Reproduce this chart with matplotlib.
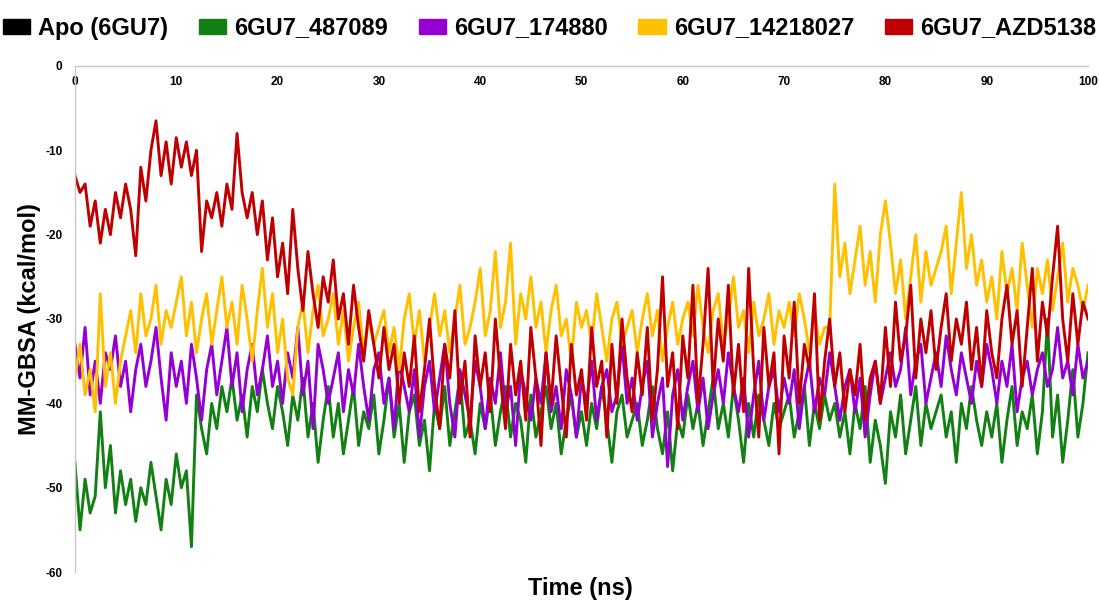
import numpy as np
import matplotlib
matplotlib.use("Agg")
import matplotlib.pyplot as plt
from matplotlib.patches import Patch

plt.rcParams["font.family"] = ["Liberation Sans", "DejaVu Sans"]
plt.rcParams["axes.unicode_minus"] = False

series_names = ["Apo (6GU7)", "6GU7_487089", "6GU7_174880", "6GU7_14218027", "6GU7_AZD5138"]
series_colors = ["#000000", "#138013", "#9400D3", "#FFC000", "#C00000"]

time_ns = np.arange(0, 100.01, 0.5)

azd5138 = [
    -13, -15, -14, -19, -16, -21, -17, -20, -15, -18, -14,
    -17, -22.5, -12, -16, -10, -6.5, -13, -9, -14, -8.5,
    -12, -9, -13, -10, -22, -16, -18, -15, -19, -14,
    -17, -8, -15, -18, -15, -20, -16, -23, -18, -25,
    -21, -27, -17, -24, -29, -22, -27, -31, -25, -28,
    -23, -30, -27, -33, -26, -31, -35, -29, -33, -37,
    -31, -36, -33, -40, -34, -38, -32, -41, -36, -30,
    -38, -43, -33, -37, -29, -40, -35, -44, -32, -38,
    -34, -41, -30, -37, -43, -33, -39, -35, -42, -31,
    -37, -45, -34, -40, -32, -38, -44, -33, -39, -36,
    -42, -31, -38, -35, -44, -33, -40, -30, -37, -41,
    -34, -39, -31, -42, -36, -25, -38, -34, -43, -32,
    -37, -26, -40, -33, -24, -38, -30, -35, -26, -39,
    -33, -41, -24, -36, -44, -31, -38, -34, -46, -32,
    -37, -28, -40, -33, -36, -27, -42, -35, -30, -38,
    -34, -41, -36, -39, -33, -42, -37, -35, -40, -31,
    -38, -28, -35, -32, -26, -37, -30, -34, -29, -36,
    -31, -27, -35, -30, -33, -28, -36, -31, -38, -29,
    -34, -37, -30, -26, -33, -29, -38, -31, -24, -35,
    -28, -32, -25, -19, -30, -35, -27, -33, -28, -30,
]

c14218027 = [
    -37, -33, -39, -36, -41, -27, -38, -34, -40, -35, -32,
    -29, -34, -27, -32, -30, -26, -33, -29, -31, -28,
    -25, -32, -28, -34, -30, -27, -33, -29, -25, -31,
    -28, -33, -26, -30, -35, -29, -24, -31, -27, -34,
    -30, -37, -39, -31, -28, -34, -29, -26, -32, -30,
    -27, -33, -29, -35, -31, -28, -34, -30, -33, -31,
    -29, -34, -31, -36, -30, -27, -33, -29, -35, -31,
    -27, -32, -29, -34, -30, -26, -33, -31, -28, -24,
    -32, -29, -22, -31, -28, -21, -33, -27, -30, -25,
    -31, -28, -34, -29, -26, -32, -30, -35, -28, -31,
    -29, -33, -27, -31, -35, -30, -28, -33, -31, -29,
    -34, -30, -27, -32, -29, -35, -31, -28, -33, -30,
    -28, -32, -26, -31, -34, -29, -27, -33, -30, -25,
    -31, -29, -34, -28, -32, -30, -27, -33, -29, -31,
    -28, -32, -27, -30, -34, -29, -33, -31, -31, -14,
    -25, -21, -27, -23, -19, -26, -22, -28, -20, -16,
    -21, -27, -23, -30, -25, -20, -28, -22, -26, -24,
    -22, -19, -27, -21, -15, -24, -20, -26, -23, -28,
    -25, -30, -22, -27, -24, -29, -21, -26, -31, -24,
    -27, -23, -29, -25, -21, -28, -24, -26, -29, -26,
]

c174880 = [
    -33, -37, -31, -39, -35, -40, -34, -36, -32, -38, -35,
    -41, -36, -33, -38, -35, -31, -37, -42, -34, -38,
    -35, -40, -33, -37, -42, -36, -33, -39, -35, -31,
    -38, -34, -41, -36, -33, -39, -36, -32, -38, -35,
    -40, -34, -37, -31, -39, -35, -43, -33, -36, -40,
    -37, -34, -41, -36, -39, -33, -38, -42, -36, -34,
    -40, -37, -43, -35, -38, -41, -36, -44, -38, -35,
    -41, -37, -33, -40, -44, -36, -39, -42, -35, -38,
    -43, -37, -40, -34, -41, -38, -45, -36, -39, -42,
    -37, -40, -34, -41, -38, -43, -36, -39, -44, -37,
    -40, -35, -42, -38, -36, -41, -39, -33, -40, -37,
    -42, -38, -35, -44, -40, -37, -47.5, -39, -36, -42,
    -38, -35, -41, -37, -43, -39, -36, -40, -34, -38,
    -41, -37, -44, -39, -35, -42, -38, -36, -41, -37,
    -40, -36, -43, -38, -35, -41, -37, -39, -34, -38,
    -42, -38, -36, -41, -37, -44, -39, -35, -40, -37,
    -34, -38, -36, -31, -39, -35, -33, -40, -37, -34,
    -38, -32, -36, -39, -34, -37, -40, -35, -38, -33,
    -36, -40, -35, -38, -33, -41, -37, -35, -39, -36,
    -34, -38, -36, -31, -37, -35, -39, -33, -37, -35,
]

c487089 = [
    -47, -55, -49, -53, -51, -41, -50, -45, -53, -48, -52,
    -49, -54, -50, -52, -47, -51, -55, -49, -52, -46,
    -50, -48, -57, -39, -43, -46, -40, -43, -38, -41,
    -37, -42, -39, -44, -38, -41, -36, -40, -43, -38,
    -41, -45, -39, -42, -37, -44, -40, -47, -42, -38,
    -44, -40, -46, -42, -38, -45, -41, -43, -39, -46,
    -42, -37, -44, -40, -47, -41, -39, -45, -42, -48,
    -40, -43, -38, -45, -41, -37, -44, -42, -46, -40,
    -43, -39, -45, -41, -38, -44, -40, -42, -47, -39,
    -44, -41, -38, -43, -40, -46, -42, -39, -44, -41,
    -45, -40, -43, -38, -42, -47, -41, -39, -44, -42,
    -40, -45, -42, -38, -43, -46, -41, -48, -42, -44,
    -39, -43, -40, -45, -41, -37, -43, -40, -44, -38,
    -42, -47, -40, -44, -39, -42, -45, -40, -43, -41,
    -39, -44, -41, -38, -45, -40, -43, -39, -42, -40,
    -44, -41, -46, -40, -43, -38, -47, -42, -45, -49.5,
    -41, -44, -39, -46, -42, -38, -45, -40, -43, -41,
    -39, -44, -41, -47, -40, -43, -38, -42, -45, -41,
    -44, -40, -47, -42, -38, -45, -41, -43, -39, -46,
    -41, -30, -44, -39, -47, -42, -36, -44, -40, -34,
]

x_ticks = [0, 10, 20, 30, 40, 50, 60, 70, 80, 90, 100]
y_ticks = [0, -10, -20, -30, -40, -50, -60]

fig = plt.figure(figsize=(10.99, 6.02), dpi=100)
ax = fig.add_axes([0.0682, 0.0498, 0.9218, 0.8406])

data = [None, c487089, c174880, c14218027, azd5138]
for vals, col in zip(data, series_colors):
    if vals is None:
        continue
    ax.plot(time_ns, vals, color=col, lw=2.1)

ax.set_xlim(0, 100)
ax.set_ylim(-60, 0)
ax.set_xticks(x_ticks)
ax.set_yticks(y_ticks)
ax.xaxis.tick_top()
ax.tick_params(axis="x", length=0, pad=-16, labelsize=8.5)
ax.tick_params(axis="y", length=0, pad=9, labelsize=8.5)
for lab in ax.get_xticklabels() + ax.get_yticklabels():
    lab.set_fontweight("bold")
for s in ["right", "bottom"]:
    ax.spines[s].set_visible(False)
for s in ["left", "top"]:
    ax.spines[s].set_color("#C8C8C8")
    ax.spines[s].set_linewidth(1.0)

ax.set_ylabel("MM-GBSA (kcal/mol)", fontsize=17, fontweight="bold")
ax.yaxis.set_label_coords(-0.034, 0.5)
fig.text(0.528, 0.003, "Time (ns)", fontsize=17, fontweight="bold", ha="center", va="bottom")

handles = [Patch(facecolor=c, edgecolor=c) for c in series_colors]
fig.legend(handles, series_names, loc="upper center", bbox_to_anchor=(0.5, 1.0), ncol=5,
           frameon=False, prop={"weight": "bold", "size": 17},
           handlelength=1.15, handleheight=0.6, handletextpad=0.35, columnspacing=1.3,
           borderaxespad=0.3)

fig.savefig("out.png", dpi=100)
